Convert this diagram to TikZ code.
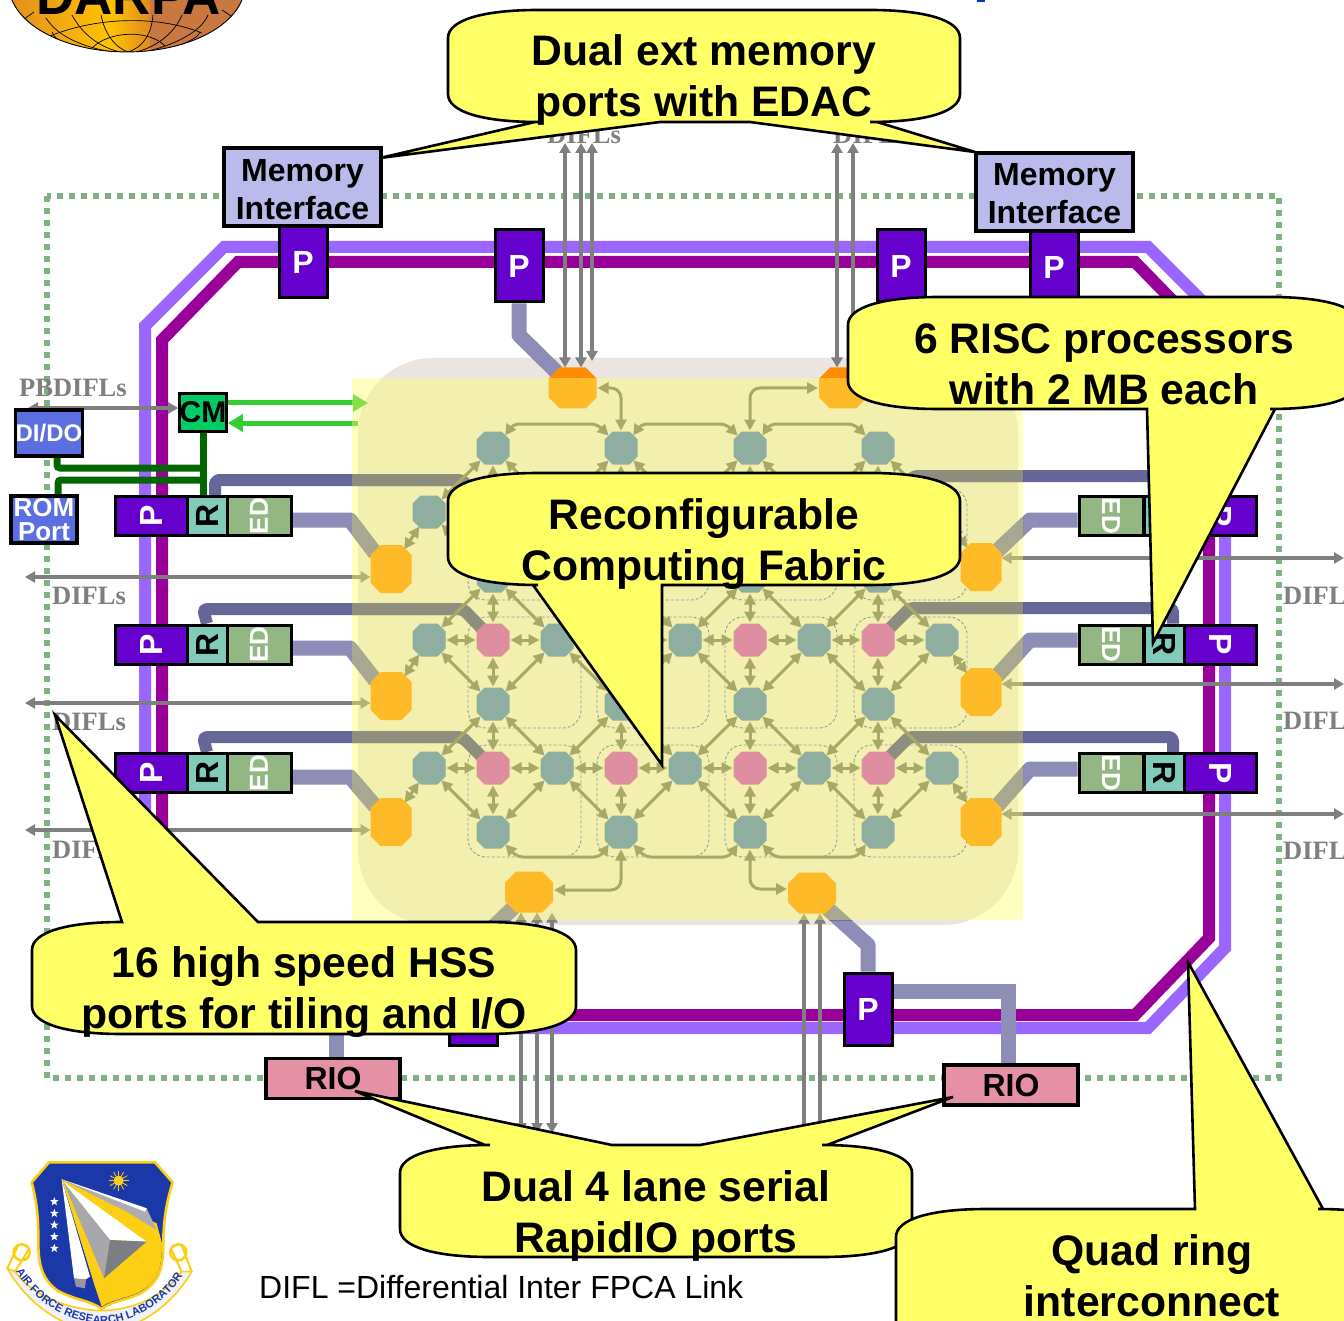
\documentclass[tikz,border=0pt]{standalone}
\usepackage{fontspec}
\setmainfont{Liberation Sans}
\newfontfamily\difflfont{Liberation Serif}
\usetikzlibrary{arrows.meta,shapes.geometric,decorations.text}
\definecolor{ringlight}{HTML}{9966FF}
\definecolor{ringdark}{HTML}{990099}
\definecolor{bandlight}{HTML}{8D8DB8}
\definecolor{banddark}{HTML}{666699}
\definecolor{bandlightin}{HTML}{6E6EAC}
\definecolor{banddarkin}{HTML}{444491}
\definecolor{procblue}{HTML}{6600CC}
\definecolor{routerteal}{HTML}{80CCB8}
\definecolor{edgreen}{HTML}{93B783}
\definecolor{memblue}{HTML}{BBBBEB}
\definecolor{iopink}{HTML}{E690A5}
\definecolor{diodo}{HTML}{5B6FE0}
\definecolor{cmgreen}{HTML}{00CC66}
\definecolor{dotgreen}{HTML}{7FB283}
\definecolor{callyellow}{HTML}{FFFF66}
\definecolor{gridgrey}{HTML}{717166}
\definecolor{difgrey}{HTML}{7F7F7F}
\definecolor{shieldblue}{HTML}{1A38A8}
\definecolor{shieldgold}{HTML}{FCCF14}
\definecolor{tealfill}{HTML}{447BC6}
\definecolor{pinkfill}{HTML}{CB44C6}
\definecolor{orange1}{HTML}{FF8C00}
\definecolor{arrowgreen}{HTML}{33CC33}
\definecolor{ctrlgreen}{HTML}{006600}
\definecolor{clusterblue}{HTML}{3366CC}
\definecolor{fabricgrey}{HTML}{EBE5E1}
\definecolor{globebrown}{HTML}{C87840}
\definecolor{globegold}{HTML}{FFC400}
\definecolor{globeorange}{HTML}{E08A20}
\definecolor{topdash}{HTML}{0033CC}
\definecolor{ribbonwhite}{HTML}{F0F2FA}
\definecolor{fingrey}{HTML}{ACACB2}
\definecolor{finmid}{HTML}{A8A8AC}
\definecolor{findark}{HTML}{7C7E86}
\definecolor{finfold}{HTML}{96969C}
\pgfdeclarelayer{under}
\pgfdeclarelayer{bands}
\pgfdeclarelayer{over}
\pgfsetlayers{under,bands,main,over}
\tikzset{
  basebox/.style={draw=black,line width=3pt,inner sep=0pt,font=\bfseries\fontsize{32pt}{38pt}\selectfont,align=center},
  pbox/.style={basebox,fill=procblue,text=white},
  rbox/.style={basebox,fill=routerteal,text=black},
  edbox/.style={basebox,fill=edgreen,text=white,font=\bfseries\fontsize{26pt}{30pt}\selectfont},
  membox/.style={basebox,line width=3.8pt,fill=memblue,minimum width=157pt,minimum height=78pt},
  memtext/.style={font=\bfseries\fontsize{32pt}{38pt}\selectfont,align=center,inner sep=0pt},
  riobox/.style={basebox,line width=3.6pt,fill=iopink,minimum width=134pt,minimum height=40pt},
  blubox/.style={basebox,line width=3.6pt,fill=diodo,text=white},
  gridarrow/.style={draw=gridgrey,line width=3pt,{Triangle[length=11pt,width=11pt]}-{Triangle[length=11pt,width=11pt]},shorten <=1pt,shorten >=1pt},
  difarrow/.style={draw=difgrey,line width=3.8pt,{Triangle[length=10pt,width=11pt]}-{Triangle[length=10pt,width=11pt]}},
  greenarrow/.style={draw=arrowgreen,line width=5pt,-{Triangle[length=15pt,width=17pt]}},
  lightband/.style={draw=bandlight,line width=15pt,line join=round},
  darkband/.style={draw=banddark,line width=12pt,line join=round,rounded corners=4pt},
  ctrlline/.style={draw=ctrlgreen,line width=7pt,rounded corners=3pt},
  ringouter/.style={draw=ringlight,line width=12pt,line join=miter},
  ringinner/.style={draw=ringdark,line width=12pt,line join=miter},
  fpgabox/.style={draw=clusterblue,line width=0.9pt,dash pattern=on 3pt off 2pt,rounded corners=18pt},
  callbody/.style={draw=black,line width=2.6pt,fill=callyellow,line join=miter},
  calltext/.style={font=\bfseries\fontsize{42.7pt}{51pt}\selectfont,align=center,text=black,inner sep=0pt},
  diflabel/.style={font=\difflfont\bfseries\fontsize{26.5pt}{30pt}\selectfont,text=difgrey,inner sep=0pt,anchor=west},
}
% name fill x y w h chamfer
\newcommand{\octnode}[7]{%
  \fill[#2] ({#3-#5/2+#7},{#4-#6/2}) -- ({#3+#5/2-#7},{#4-#6/2}) -- ({#3+#5/2},{#4-#6/2+#7}) -- ({#3+#5/2},{#4+#6/2-#7}) -- ({#3+#5/2-#7},{#4+#6/2}) -- ({#3-#5/2+#7},{#4+#6/2}) -- ({#3-#5/2},{#4+#6/2-#7}) -- ({#3-#5/2},{#4-#6/2+#7}) -- cycle;
  \node[ellipse,minimum width=#5pt,minimum height=#6pt,inner sep=0pt,outer sep=0pt] (#1) at (#3,#4) {};}
% band drawn in its plain colour and a deeper one below the wash
\newcommand{\lband}[2][]{%
  \draw[lightband,#1] #2;
  \begin{scope}\clip (352,378) rectangle (1023,920); \draw[lightband,draw=bandlightin,#1] #2;\end{scope}}
\newcommand{\dband}[1]{%
  \draw[darkband] #1;
  \begin{scope}\clip (352,378) rectangle (1023,920); \draw[darkband,draw=banddarkin] #1;\end{scope}}
% x1 y1 x2 y2 top-insert bottom-insert
\newcommand{\speechbox}[6]{%
  \draw[callbody] ({#1+90},#2) #5 -- ({#3-90},#2)
    .. controls ({#3-35},#2) and (#3,{#2+10}) .. (#3,{#2+28})
    -- (#3,{#4-28})
    .. controls (#3,{#4-10}) and ({#3-35},#4) .. ({#3-90},#4) #6 -- ({#1+90},#4)
    .. controls ({#1+35},#4) and (#1,{#4-10}) .. (#1,{#4-28})
    -- (#1,{#2+28})
    .. controls (#1,{#2+10}) and ({#1+35},#2) .. ({#1+90},#2) -- cycle;}
\begin{document}
\begin{tikzpicture}[x=1pt,y=-1pt]
\useasboundingbox (0,0) rectangle (1344,1321);

\begin{pgfonlayer}{under}
\fill[white] (0,0) rectangle (1344,1321);
% ---------- DARPA logo
\begin{scope}
  \clip (127,-15) ellipse [x radius=118pt,y radius=67pt];
  \fill[left color=globeorange,right color=globegold] (0,-90) rectangle (110,60);
  \fill[left color=globegold,right color=globeorange] (110,-90) rectangle (150,60);
  \fill[globebrown] (150,-90) rectangle (250,60);
  \begin{scope}[black,line width=0.7pt]
    \draw (50,36) .. controls (100,16) and (160,16) .. (202,33);
    \draw (92,48) .. controls (110,30) and (150,30) .. (165,46);
    \draw (52,32) .. controls (55,44) and (85,50) .. (100,52);
    \draw (200,32) .. controls (198,40) and (170,50) .. (150,52);
    \draw (46,18) .. controls (60,40) and (90,48) .. (112,52);
    \draw (72,15) .. controls (80,30) and (95,46) .. (120,52);
    \draw (101,15) .. controls (104,30) and (112,46) .. (128,52);
    \draw (153,15) .. controls (152,30) and (146,46) .. (128,52);
    \draw (182,15) .. controls (176,30) and (160,46) .. (136,52);
    \draw (208,15) .. controls (200,34) and (170,46) .. (145,52);
    \draw (34,12) -- (20,22);
    \draw (222,10) -- (240,22);
  \end{scope}
\end{scope}
\draw[black,line width=0.9pt] (127,-15) ++(-115,15) arc [start angle=167,end angle=13,x radius=118pt,y radius=-67pt];
\fill[topdash] (977,0) rectangle (985,2);
% ---------- dotted boundary
\draw[dotgreen,line width=6pt,dash pattern=on 6pt off 6pt] (47,196) rectangle (1279,1078);
% ---------- quad ring
\draw[ringouter] (224,247) -- (1148,247) -- (1225,324) -- (1225,948) -- (1148,1028) -- (224,1028) -- (145,948) -- (145,326) -- cycle;
\draw[ringinner] (238,262) -- (1135,262) -- (1209,338) -- (1209,938) -- (1135,1015) -- (238,1015) -- (162,938) -- (162,340) -- cycle;
% ---------- fabric ground
\fill[fabricgrey,rounded corners=75pt] (358,358) rectangle (1018,925);
\end{pgfonlayer}

\node[font=\bfseries\fontsize{53pt}{53pt}\selectfont,anchor=base,inner sep=0pt,text=black] (darpa) at (128.5,15) {DARPA};

% ---------- edge ports
\foreach \n/\yy in {1/516,2/644.5,3/773}{
  \node[pbox,minimum width=72pt,minimum height=39pt] (pl\n) at (151,\yy) {\rotatebox{90}{P}};
  \node[rbox,minimum width=40pt,minimum height=39pt] (rl\n) at (207,\yy) {\rotatebox{90}{R}};
  \node[edbox,minimum width=64pt,minimum height=39pt] (edl\n) at (259,\yy) {\rotatebox{90}{ED}};
  \node[edbox,minimum width=64pt,minimum height=39pt] (edr\n) at (1111,\yy) {\rotatebox{-90}{ED}};
  \node[rbox,minimum width=40pt,minimum height=39pt] (rr\n) at (1164,\yy) {\rotatebox{-90}{R}};
  \node[pbox,minimum width=72pt,minimum height=39pt] (pr\n) at (1220,\yy) {\rotatebox{-90}{P}};
}
% orange I/O nodes
\octnode{ot1}{orange1}{572.5}{388}{48}{41}{11}
\octnode{ot2}{orange1}{843}{388}{48}{41}{11}
\octnode{ol1}{orange1}{391}{569}{41}{48}{10}
\octnode{ol2}{orange1}{391}{696}{41}{48}{10}
\octnode{ol3}{orange1}{391}{822}{41}{48}{10}
\octnode{or1}{orange1}{981}{567}{41}{48}{10}
\octnode{or2}{orange1}{981}{692}{41}{48}{10}
\octnode{or3}{orange1}{981}{822}{41}{48}{10}
\octnode{ob1}{orange1}{529}{892}{48}{41}{11}
\octnode{ob2}{orange1}{812}{893}{48}{41}{11}

% grid nodes
\foreach \x in {493,621,750,878}{
  \foreach \y in {448,576,704,832}{\octnode{n\x-\y}{tealfill}{\x}{\y}{33}{33}{8}}
  \foreach \y in {512,640,768}{\octnode{n\x-\y}{pinkfill}{\x}{\y}{33}{33}{8}}
}
\foreach \x in {429,557,685,814,942}{
  \foreach \y in {512,640,768}{\octnode{n\x-\y}{tealfill}{\x}{\y}{33}{33}{8}}
}

% dashed cluster outlines
\begin{pgfonlayer}{bands}
\foreach \xa/\xb in {468/581,597/709,725/837,854/967}{
  \foreach \ya/\yb in {488/600,617/728,745/857}{
    \draw[fpgabox] (\xa,\ya) rectangle (\xb,\yb);
  }
}
\end{pgfonlayer}

% main boxes
\node[pbox,minimum width=48pt,minimum height=71pt] (pt1) at (303,262.5) {P};
\node[pbox,minimum width=48pt,minimum height=72pt] (pt2) at (519,266) {P};
\node[pbox,minimum width=48pt,minimum height=72pt] (pt3) at (901,266) {P};
\node[pbox,minimum width=48pt,minimum height=70pt] (pt4) at (1054,267) {P};
\node[pbox,minimum width=48pt,minimum height=72pt] (pb1) at (868,1009) {P};
\node[pbox,minimum width=48pt,minimum height=72pt] (pb2) at (473,1009) {};
\node[riobox] (rio1) at (333,1078.5) {RIO};
\node[riobox] (rio2) at (1011,1085) {RIO};

% ---------- thick links
\begin{pgfonlayer}{bands}
\lband{(pt2.south) -- (519,335) -- (ot1.135)}
\lband{(pt3.south) -- (ot2.45)}
\lband{([yshift=-4pt]edl1.east) -- (350,520) -- (ol1.135)}
\lband{([yshift=-3.5pt]edl2.east) -- (350,648) -- (ol2.135)}
\lband{([yshift=-4pt]edl3.east) -- (350,777) -- (ol3.135)}
\lband{([yshift=-4pt]edr1.west) -- (1030,520) -- (or1.45)}
\lband{([yshift=4.5pt]edr2.west) -- (1030,640) -- (or2.45)}
\lband{([yshift=4pt]edr3.west) -- (1030,769) -- (or3.45)}
\lband{(pb1.north) -- (868,945) -- (ob2.-45)}
\lband{(pb2.north) -- (473,947) -- (ob1.-135)}
\lband[line join=miter]{([yshift=18pt]pb1.east) -- (1008,991) -- (1008,1065)}
\lband{(336,1058) -- (336,1000) -- ([yshift=9pt]pb2.west)}
\dband{([xshift=8pt]rl1.north) -- (215,480) -- (462,480) -- (n493-512)}
\dband{(rl2.north) -- (203,609) -- (463,609) -- (n493-640)}
\dband{(rl3.north) -- (203,737) -- (462,737) -- (n493-768)}
\dband{([xshift=9pt]rr1.north) -- (1173,476) -- (914,476) -- (n878-512)}
\dband{([xshift=9pt]rr2.north) -- (1173,608) -- (910,608) -- (n878-640)}
\dband{([xshift=9pt]rr3.north) -- (1173,737) -- (909,737) -- (n878-768)}
\end{pgfonlayer}

% ---------- lattice arrows
\foreach \a/\b in {448/512,512/576,576/640,640/704,704/768,768/832}{
  \foreach \x in {493,621,750,878}{\draw[gridarrow] (n\x-\a) -- (n\x-\b);}
}
\foreach \a/\b in {429/493,493/557,557/621,621/685,685/750,750/814,814/878,878/942}{
  \foreach \y in {512,640,768}{\draw[gridarrow] (n\a-\y) -- (n\b-\y);}
}
\foreach \ox/\ex in {429/493,557/493,557/621,685/621,685/750,814/750,814/878,942/878}{
  \foreach \py/\ty in {512/448,512/576,640/576,640/704,768/704,768/832}{
    \draw[gridarrow] (n\ox-\py) -- (n\ex-\ty);
  }
}
\foreach \a/\b in {493/621,621/750,750/878}{
  \draw[gridarrow,rounded corners=6pt] (n\a-448.45) -- ([xshift=20pt]n\a-448.north |- 0,424) -- ([xshift=-24pt]n\b-448.north |- 0,424) -- (n\b-448.135);
  \draw[gridarrow,rounded corners=6pt] (n\a-832.-45) -- ([xshift=24pt]n\a-832.south |- 0,857) -- ([xshift=-21pt]n\b-832.south |- 0,857) -- (n\b-832.-135);
}
\draw[gridarrow,rounded corners=10pt] (ot1.east) -- (621,388) -- (n621-448.north);
\draw[gridarrow,rounded corners=10pt] (n750-448.north) -- (750,388) -- (ot2.west);
\draw[gridarrow,rounded corners=10pt] (n621-832.south) -- (621,890) -- (ob1.east |- 0,890);
\draw[gridarrow,rounded corners=10pt] (n750-832.south) -- (750,889) -- (ob2.west |- 0,889);
\draw[gridarrow] (ol1) -- (n429-512);
\draw[gridarrow] (ol2) -- (n429-640);
\draw[gridarrow] (ol3) -- (n429-768);
\draw[gridarrow] (or1) -- (n942-512);
\draw[gridarrow] (or2) -- (n942-640);
\draw[gridarrow] (or3) -- (n942-768);

% ---------- DIFL arrows
\coordinate (tA) at (565,143); \coordinate (tB) at (581,143); \coordinate (tC) at (592,143);
\coordinate (tD) at (837,143); \coordinate (tE) at (853,143);
\draw[difarrow] (tA) -- (tA |- ot1.north);
\draw[difarrow] (tB) -- (tB |- ot1.north);
\draw[difarrow] (tC) -- (592,361);
\draw[difarrow] (tD) -- (tD |- ot2.north);
\draw[difarrow] (tE) -- (tE |- ot2.north);
\coordinate (lA) at (25,577); \coordinate (lB) at (25,703); \coordinate (lC) at (25,830);
\draw[difarrow] (lA) -- (lA -| ol1.west);
\draw[difarrow] (lB) -- (lB -| ol2.west);
\draw[difarrow] (lC) -- (lC -| ol3.west);
\coordinate (rA) at (1344,558); \coordinate (rB) at (1344,684); \coordinate (rC) at (1344,814);
\draw[difarrow] (rA) -- (rA -| or1.east);
\draw[difarrow] (rB) -- (rB -| or2.east);
\draw[difarrow] (rC) -- (rC -| or3.east);
\coordinate (bA) at (521,1133); \coordinate (bB) at (537,1133); \coordinate (bC) at (552,1133);
\draw[difarrow] (bA) -- (bA |- ob1.south);
\draw[difarrow] (bB) -- (bB |- ob1.south);
\draw[difarrow] (bC) -- (bC |- ob1.south);
\coordinate (bD) at (804,1146); \coordinate (bE) at (820,1146);
\draw[difarrow,-{Triangle[length=10pt,width=11pt]}] (bD) -- (bD |- ob2.south);
\draw[difarrow,-{Triangle[length=10pt,width=11pt]}] (bE) -- (bE |- ob2.south);

% ---------- control part
\node[basebox,fill=cmgreen,minimum width=45pt,minimum height=38pt,font=\bfseries\fontsize{30pt}{30pt}\selectfont] (cm) at (203,412.5) {CM};
\coordinate (gA) at (368,403); \coordinate (gB) at (358,423);
\draw[greenarrow] (gA -| cm.east) -- (gA);
\draw[greenarrow] (gB) -- (gB -| cm.east);
\coordinate (pbl) at (28,408);
\draw[difarrow] (pbl) -- (pbl -| cm.west);
\node[blubox,minimum width=66pt,minimum height=46pt,font=\bfseries\fontsize{24pt}{26pt}\selectfont] (dido) at (49,433) {DI/DO};
\node[blubox,minimum width=66pt,minimum height=47pt,font=\bfseries\fontsize{26pt}{24pt}\selectfont] (rom) at (44,519.5) {ROM\\Port};
\begin{pgfonlayer}{bands}
\draw[ctrlline] ([xshift=8pt]dido.south) -- (57,468) -- (203,468);
\draw[ctrlline] ([xshift=14pt]rom.north) -- (58,480) -- (203,480);
\draw[ctrlline] (cm.south) -- (203,497);
\end{pgfonlayer}

\begin{pgfonlayer}{over}
% ---------- wash over the fabric
\fill[callyellow,fill opacity=0.4] (352,378) rectangle (1023,920);

% ---------- top boxes
\node[membox] (mem1) at (302.5,187) {};
\node[memtext] (mem1t) at ([yshift=-3pt]mem1.center) {Memory\\Interface};
\node[membox] (mem2) at (1054.5,192) {};
\node[memtext] (mem2t) at ([yshift=-2pt]mem2.center) {Memory\\Interface};

% ---------- labels
\node[diflabel] (t1) at (547,135) {DIFLs};
\node[diflabel] (t2) at (833,135) {DIFLs};
\node[diflabel] (t3) at (19,388) {PBDIFLs};
\node[diflabel] (t4) at (52,596) {DIFLs};
\node[diflabel] (t5) at (52,722) {DIFLs};
\node[diflabel] (t6) at (52,850) {DIFLs};
\node[diflabel] (t7) at (1283,596) {DIFLs};
\node[diflabel] (t8) at (1283,721) {DIFLs};
\node[diflabel] (t9) at (1283,851) {DIFLs};
\node[anchor=west,inner sep=0pt,font=\fontsize{32pt}{36pt}\selectfont] (legend) at (259,1287) {DIFL =Differential Inter FPCA Link};

% ---------- AFRL shield
\begin{scope}[shift={(0,1140)},x=0.3333pt,y=-0.3333pt]
  \fill[ribbonwhite,draw=shieldgold,line width=1.6pt] (45,395) .. controls (100,470) and (210,510) .. (305,512) .. controls (400,510) and (490,470) .. (545,395) -- (575,395) .. controls (520,490) and (420,570) .. (305,575) .. controls (190,570) and (80,490) .. (22,385) -- cycle;
  \draw[shieldgold,line width=2.6pt] (65,337) circle [radius=8pt];
  \draw[shieldgold,line width=2.6pt] (535,337) circle [radius=8pt];
  \draw[shieldgold,line width=2pt] (22,385) -- (55,315);
  \draw[shieldgold,line width=2pt] (45,395) -- (85,330);
  \draw[shieldgold,line width=2pt] (575,395) -- (545,315);
  \draw[shieldgold,line width=2pt] (545,395) -- (515,330);
  \fill[shieldblue,draw=shieldgold,line width=2.6pt,line join=round] (147,67) -- (465,67) -- (518,127) .. controls (495,200) and (490,260) .. (490,310) .. controls (490,380) and (480,420) .. (430,455) .. controls (390,480) and (340,480) .. (305,507) .. controls (270,480) and (220,480) .. (170,450) .. controls (130,420) and (115,380) .. (115,310) .. controls (115,260) and (115,200) .. (95,127) -- cycle;
  \fill[shieldgold] (185,118) -- (470,250) -- (486,310) .. controls (486,380) and (475,420) .. (428,450) .. controls (390,475) and (340,475) .. (305,500) -- (285,440) -- cycle;
  \fill[fingrey] (185,118) -- (440,205) -- (470,270) -- (380,215) -- cycle;
  \fill[white] (185,118) -- (440,205) -- (435,215) -- cycle;
  \fill[white] (190,125) -- (440,305) -- (330,300) -- cycle;
  \fill[finmid] (190,125) -- (330,300) -- (312,415) -- cycle;
  \fill[findark] (330,300) -- (440,305) -- (312,415) -- cycle;
  \fill[white] (185,118) -- (270,410) -- (255,420) -- (222,415) -- cycle;
  \fill[finfold] (222,415) -- (258,418) -- (255,445) -- (228,440) -- cycle;
  \foreach \yy in {185,220,255,290,325}{
    \node[star,star points=5,star point ratio=2.4,fill=white,draw=none,minimum size=9pt,inner sep=0pt] at (163,\yy) {};
  }
  \fill[shieldgold] (356,122) circle [radius=5pt];
  \foreach \aa in {0,30,...,330}{\draw[shieldgold,line width=0.8pt] (356,122) -- ++(\aa:30);}
  \path[decorate,decoration={text along path,text align=center,text color={shieldblue},
     text={|\fontsize{11.2pt}{12pt}\selectfont\bfseries|AIR FORCE RESEARCH LABORATORY}}]
     (58,410) .. controls (125,505) and (220,548) .. (305,552) .. controls (400,548) and (500,490) .. (550,405);
\end{scope}

% ---------- callouts
\speechbox{448}{10}{960}{122}{}{-- (877,122) -- (975,152) -- (750,122) -- (660,122) -- (380,158) -- (535,122)}
\node[calltext] (c1) at (704,80) {Dual ext memory\\ports with EDAC};
\speechbox{848}{297}{1360}{409}{}{-- (1275,409) -- (1153,643) -- (1147,409)}
\node[calltext] (c2) at (1104,364) {6 RISC processors\\with 2 MB each};
\speechbox{448}{473}{960}{585}{}{-- (662,585) -- (662,765) -- (533,585)}
\node[calltext] (c3) at (704,544.5) {Reconfigurable\\Computing Fabric};
\speechbox{32}{922}{576}{1034}{-- (122,922) -- (55,715) -- (258,922)}{}
\node[calltext] (c4) at (304,992) {16 high speed HSS\\ports for tiling and I/O};
\speechbox{400}{1145}{912}{1257}{-- (485,1145) -- (355,1091) -- (612,1145) -- (700,1145) -- (953,1097) -- (827,1145)}{}
\node[calltext] (c5) at (656,1216) {Dual 4 lane serial\\RapidIO ports};
\speechbox{896}{1209}{1408}{1380}{-- (1195,1209) -- (1188,962) -- (1323,1209)}{}
\node[calltext] (c6) at (1152,1276) {Quad ring\\interconnect};
\end{pgfonlayer}
\end{tikzpicture}
\end{document}
